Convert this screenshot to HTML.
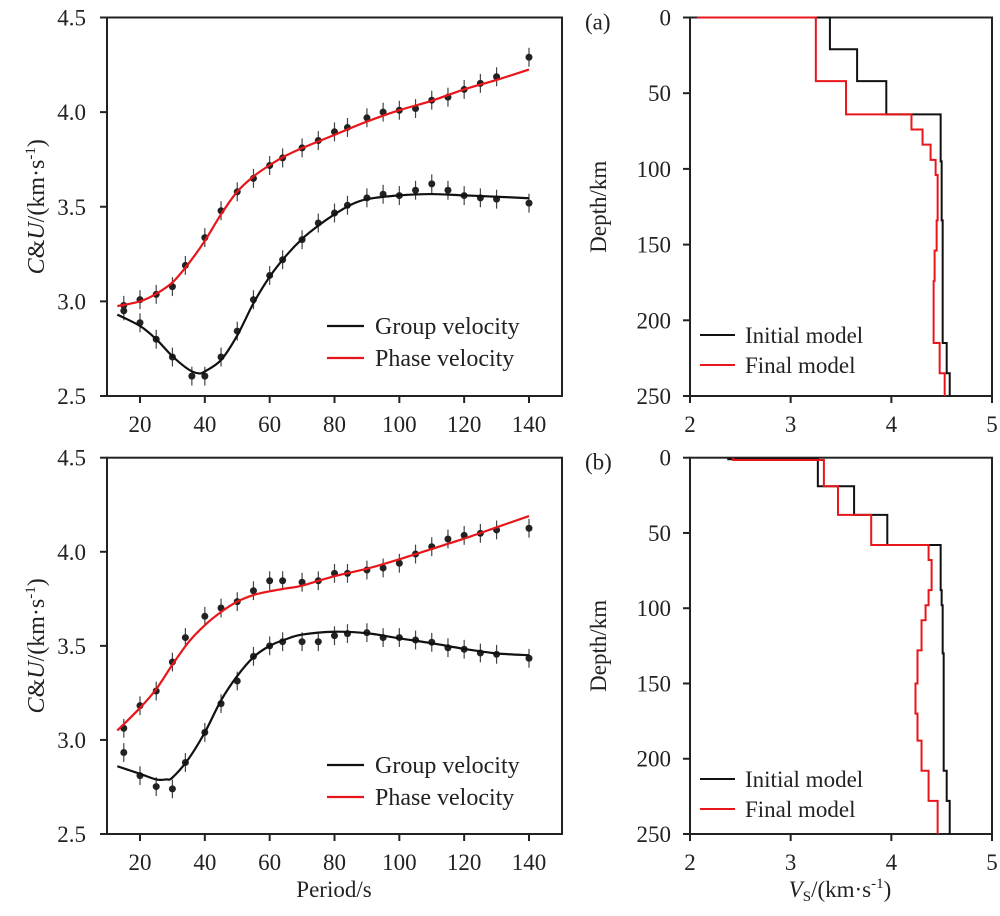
<!DOCTYPE html>
<html><head><meta charset="utf-8"><style>
body{margin:0;background:#fff}
svg text{font-family:"Liberation Serif",serif;fill:#222}
</style></head><body>
<svg id="fig" width="1000" height="911" viewBox="0 0 1000 911" xmlns="http://www.w3.org/2000/svg"></svg>
<script>
// ---- data ----
const periods = [15,20,25,30,34,40,45,50,55,60,64,70,75,80,84,90,95,100,105,110,115,120,125,130,140];
const gPeriods = [15,20,25,30,36,40,45,50,55,60,64,70,75,80,84,90,95,100,105,110,115,120,125,130,140];
const aPhaseObs = [2.979,3.009,3.037,3.078,3.19,3.337,3.479,3.579,3.65,3.718,3.758,3.811,3.85,3.896,3.919,3.97,4.0,4.01,4.019,4.063,4.079,4.12,4.152,4.187,4.29];
const aGroupObs = [2.95,2.887,2.8,2.706,2.605,2.605,2.706,2.843,3.009,3.137,3.22,3.326,3.414,3.467,3.508,3.547,3.566,3.559,3.587,3.621,3.587,3.559,3.547,3.54,3.519];
const curvePeriods = [13,20,25,30,35,40,45,50,55,60,65,70,80,90,100,110,120,130,140];
const aPhaseFit = [2.975,3.0,3.04,3.1,3.2,3.32,3.46,3.58,3.66,3.72,3.77,3.81,3.88,3.95,4.01,4.06,4.12,4.17,4.225];
const aGroupCurveP = [13,20,25,30,35,38,40,45,50,55,60,65,70,75,80,85,90,100,110,120,130,140];
const aGroupFit = [2.93,2.87,2.8,2.71,2.64,2.62,2.63,2.69,2.82,2.99,3.13,3.24,3.33,3.40,3.46,3.51,3.54,3.56,3.567,3.56,3.553,3.545];
const bPhaseObs = [3.062,3.182,3.26,3.414,3.544,3.657,3.701,3.735,3.793,3.846,3.846,3.838,3.846,3.885,3.885,3.903,3.914,3.939,3.988,4.027,4.068,4.087,4.098,4.116,4.125];
const bGroupObs = [2.933,2.81,2.752,2.74,2.88,3.04,3.193,3.313,3.444,3.5,3.522,3.522,3.522,3.554,3.565,3.57,3.544,3.544,3.531,3.519,3.49,3.482,3.462,3.455,3.434];
const bPhaseFit = [3.05,3.17,3.27,3.40,3.52,3.61,3.68,3.735,3.77,3.79,3.805,3.82,3.87,3.91,3.96,4.015,4.07,4.13,4.19];
const bGroupCurveP = [13,20,25,28,30,35,40,45,50,55,60,65,70,80,90,100,110,120,130,140];
const bGroupFit = [2.86,2.82,2.79,2.79,2.80,2.90,3.04,3.21,3.34,3.44,3.50,3.535,3.56,3.575,3.567,3.54,3.514,3.484,3.46,3.45];
const errHalf = 0.05;
const aInitV = [2.07,3.39,3.66,3.95,4.49,4.50,4.51,4.55,4.58];
const aInitD = [0,21,42,64,95,134,215,235,250];
const aFinalV = [2.07,3.25,3.55,4.20,4.31,4.39,4.44,4.46,4.45,4.43,4.42,4.48,4.53];
const aFinalD = [0,42,64,74,84,94,104,134,154,174,215,235,250];
const bInitV = [2.38,3.27,3.63,3.96,4.49,4.50,4.51,4.52,4.55,4.58];
const bInitD = [1,19,38,58,88,98,130,208,228,250];
const bFinalV = [2.43,3.33,3.47,3.80,4.37,4.40,4.37,4.34,4.30,4.26,4.24,4.26,4.30,4.37,4.46];
const bFinalD = [1.5,19,38,58,68,88,98,108,128,150,170,188,208,228,250];
const velTicks = [2.5,3.0,3.5,4.0,4.5];
const perTicks = [20,40,60,80,100,120,140];
const depTicks = [0,50,100,150,200,250];
const vsTicks = [2,3,4,5];

const svg = document.getElementById('fig');
const NS='http://www.w3.org/2000/svg';
function mk(tag, attrs, parent){const e=document.createElementNS(NS,tag);for(const k in attrs)e.setAttribute(k,attrs[k]);(parent||svg).appendChild(e);return e;}

function leftPanel(top, bot, phaseObs, groupObs, phaseFit, groupCP, groupFit, legY, id, showXlabel){
  const g=mk('g',{});
  
  
  const L=107,R=562;
  const xs=p=>140+(p-20)*(389/120);
  const ys=v=>bot-(v-2.5)/2*(bot-top);
  mk('rect',{x:L,y:top,width:R-L,height:bot-top,fill:'none',stroke:'#222','stroke-width':2},g);
  velTicks.forEach(t=>{const y=ys(t);mk('line',{x1:L-7,x2:L,y1:y,y2:y,stroke:'#222','stroke-width':2},g);
    const tx=mk('text',{x:86,y:y+8,'text-anchor':'end','font-size':23},g);tx.textContent=t.toFixed(1);
    
    });
  perTicks.forEach(t=>{const x=xs(t);mk('line',{x1:x,x2:x,y1:bot,y2:bot+7,stroke:'#222','stroke-width':2},g);
    const tx=mk('text',{x:x,y:bot+36,'text-anchor':'middle','font-size':23},g);tx.textContent=t;
    
    });
  const yl=mk('text',{transform:`translate(44,${(top+bot)/2}) rotate(-90)`,'text-anchor':'middle','font-size':24},g);
  yl.innerHTML='<tspan font-style="italic">C</tspan>&amp;<tspan font-style="italic">U</tspan>/(km·s<tspan dy="-9" font-size="15">-1</tspan><tspan dy="9">)</tspan>';
  
  
  function smooth(P,V){const pts=P.map((p,i)=>[xs(p),ys(V[i])]);let d=`M${pts[0][0]},${pts[0][1]}`;
    for(let i=0;i<pts.length-1;i++){const p0=pts[Math.max(0,i-1)],p1=pts[i],p2=pts[i+1],p3=pts[Math.min(pts.length-1,i+2)];
      d+=` C${p1[0]+(p2[0]-p0[0])/6},${p1[1]+(p2[1]-p0[1])/6} ${p2[0]-(p3[0]-p1[0])/6},${p2[1]-(p3[1]-p1[1])/6} ${p2[0]},${p2[1]}`;}return d;}
  function obs(P,V,name){P.forEach((p,i)=>{const x=xs(p),y=ys(V[i]);
    const l=mk('line',{x1:x,x2:x,y1:ys(V[i]+errHalf),y2:ys(V[i]-errHalf),stroke:'#444','stroke-width':1.2},g);
    
    
    const c=mk('circle',{cx:x,cy:y,r:3.5,fill:'#222'},g);
    
    });}
  obs(periods,phaseObs,'phase-observed');
  obs(id==='a'?gPeriods:periods,groupObs,'group-observed');
  const gp=mk('path',{d:smooth(groupCP,groupFit),fill:'none',stroke:'#111','stroke-width':2.2},g);
  
  
  const pp=mk('path',{d:smooth(curvePeriods,phaseFit),fill:'none',stroke:'#e8161b','stroke-width':2.2},g);
  
  
  [['Group velocity','#111',legY],['Phase velocity','#e8161b',legY+32]].forEach(([t,c,y])=>{
    const le=mk('g',{},g);
    
    
    mk('line',{x1:327,x2:364,y1:y,y2:y,stroke:c,'stroke-width':2.2},le);
    const tx=mk('text',{x:375,y:y+8,'font-size':24},le);tx.textContent=t;});
  if(showXlabel){const t=mk('text',{x:334,y:897,'text-anchor':'middle','font-size':23},g);t.textContent='Period/s';
    
    }
}
function rightPanel(top, bot, iV, iD, fV, fD, legY, id, showXlabel){
  const g=mk('g',{});
  
  
  const L=690,R=992;
  const xs=v=>L+(v-2)/3*(R-L);
  const ys=d=>top+d/250*(bot-top);
  mk('rect',{x:L,y:top,width:R-L,height:bot-top,fill:'none',stroke:'#222','stroke-width':2},g);
  depTicks.forEach(t=>{const y=ys(t);mk('line',{x1:L-7,x2:L,y1:y,y2:y,stroke:'#222','stroke-width':2},g);
    const tx=mk('text',{x:671,y:y+8,'text-anchor':'end','font-size':23},g);tx.textContent=t;
    
    });
  vsTicks.forEach(t=>{const x=xs(t);mk('line',{x1:x,x2:x,y1:bot,y2:bot+7,stroke:'#222','stroke-width':2},g);
    const tx=mk('text',{x:x,y:bot+36,'text-anchor':'middle','font-size':23},g);tx.textContent=t;
    
    });
  const yl=mk('text',{transform:`translate(606,${(top+bot)/2}) rotate(-90)`,'text-anchor':'middle','font-size':23},g);yl.textContent='Depth/km';
  
  
  const lb=mk('text',{x:585,y:top+12,'font-size':23},g);lb.textContent='('+id+')';
  
  
  function step(V,D){let d=`M${xs(V[0])},${ys(0)}`;let prev=0;
    V.forEach((v,i)=>{d+=` L${xs(v)},${ys(prev)} L${xs(v)},${ys(D[i])}`;prev=D[i];});return d;}
  const ip=mk('path',{d:step(iV,iD),fill:'none',stroke:'#111','stroke-width':2},g);
  
  
  const fp=mk('path',{d:step(fV,fD),fill:'none',stroke:'#e8161b','stroke-width':2},g);
  
  
  [['Initial model','#111',legY],['Final model','#e8161b',legY+30]].forEach(([t,c,y])=>{
    const le=mk('g',{},g);
    
    
    mk('line',{x1:L+10,x2:L+45,y1:y,y2:y,stroke:c,'stroke-width':2},le);
    const tx=mk('text',{x:L+55,y:y+8,'font-size':23},le);tx.textContent=t;});
  if(showXlabel){const t=mk('text',{x:840,y:897,'text-anchor':'middle','font-size':23},g);
    t.innerHTML='<tspan font-style="italic">V</tspan><tspan font-size="15" dy="4">S</tspan><tspan dy="-4">/(km·s</tspan><tspan dy="-9" font-size="15">-1</tspan><tspan dy="9">)</tspan>';
    
    }
}
leftPanel(17.5,396,aPhaseObs,aGroupObs,aPhaseFit,aGroupCurveP,aGroupFit,326,'a',false);
leftPanel(457.7,834,bPhaseObs,bGroupObs,bPhaseFit,bGroupCurveP,bGroupFit,765,'b',true);
rightPanel(17.5,396,aInitV,aInitD,aFinalV,aFinalD,335,'a',false);
rightPanel(457.7,834,bInitV,bInitD,bFinalV,bFinalD,779,'b',true);
</script>
</body></html>
